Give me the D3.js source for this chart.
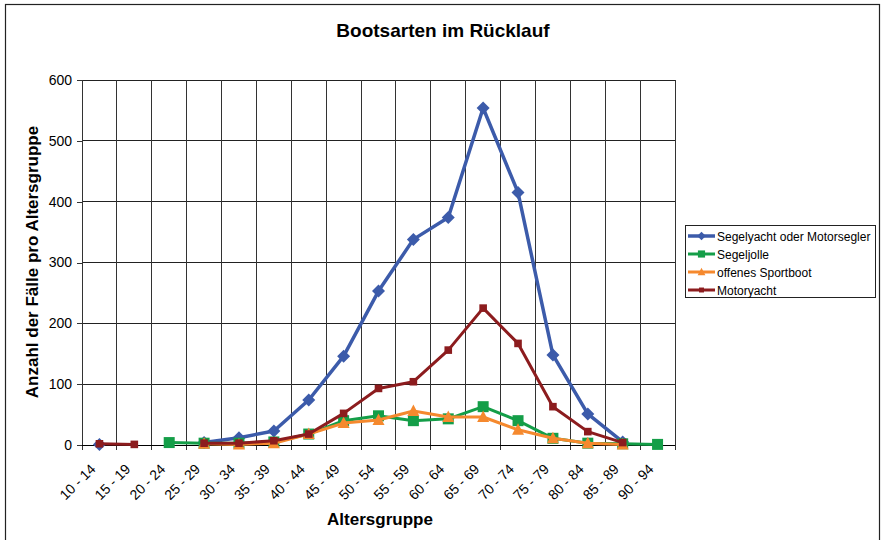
<!DOCTYPE html>
<html>
<head>
<meta charset="utf-8">
<script src="https://cdn.jsdelivr.net/npm/d3@7"></script>
<style>
  html, body { margin: 0; padding: 0; background: #fff; }
  svg { display: block; font-family: "Liberation Sans", Arial, sans-serif; }
</style>
</head>
<body>
<svg id="chart" width="883" height="540"></svg>
<script>
// ---- data ----
const categories = ["10 - 14","15 - 19","20 - 24","25 - 29","30 - 34","35 - 39","40 - 44","45 - 49","50 - 54","55 - 59","60 - 64","65 - 69","70 - 74","75 - 79","80 - 84","85 - 89","90 - 94"];
const segelyacht = [1, null, null, 4, 12, 23, 74, 146, 253, 338, 374, 554, 415, 148, 51, 5, null];
const segeljolle = [null, null, 4, 3, 3, 5, 18, 40, 48, 40, 43, 63, 40, 11, 3, 2, 1];
const sportboot  = [null, null, null, 2, 1, 3, 18, 36, 41, 56, 46, 46, 25, 11, 3, 1, null];
const motoryacht = [2, 1, null, 3, 3, 7, 18, 52, 93, 104, 156, 225, 167, 63, 22, 4, null];
const seriesNames = ["Segelyacht oder Motorsegler", "Segeljolle", "offenes Sportboot", "Motoryacht"];
const yTicks = [0, 100, 200, 300, 400, 500, 600];
const titleText = "Bootsarten im Rücklauf";
const xTitle = "Altersgruppe";
const yTitle = "Anzahl der Fälle pro Altersgruppe";

// ---- styles ----
const seriesData = [segelyacht, segeljolle, sportboot, motoryacht];
const colors = ["#3C5BAA", "#149E48", "#F5892E", "#8C1C1E"];
const widths = [3.5, 3, 3, 3];
const markers = ["diamond", "bigsquare", "triangle", "smallsquare"];

const svg = d3.select("#chart");
const L = 82, R = 675, T = 80, B = 445;

const x = d3.scaleBand().domain(categories).range([L, R]).padding(0);
const y = d3.scaleLinear().domain([0, 600]).range([B, T]);

// outer frame
svg.append("rect").attr("x", 5.5).attr("y", 4.5).attr("width", 874).attr("height", 545)
  .attr("fill", "none").attr("stroke", "#222").attr("stroke-width", 1.2);

// gridlines
const grid = svg.append("g").attr("shape-rendering", "crispEdges");
yTicks.forEach(t => {
  grid.append("line").attr("x1", L).attr("x2", R).attr("y1", y(t)).attr("y2", y(t))
    .attr("stroke", "#222").attr("stroke-width", 1);
});
const bounds = categories.map(c => x(c)).concat([R]);
bounds.forEach(bx => {
  grid.append("line").attr("x1", bx).attr("x2", bx).attr("y1", T).attr("y2", B + 5)
    .attr("stroke", "#333").attr("stroke-width", 1);
});

// y axis
const yAxis = svg.append("g").attr("transform", `translate(${L},0)`)
  .call(d3.axisLeft(y).tickValues(yTicks).tickSize(5).tickPadding(5).tickFormat(d3.format("d")));
yAxis.selectAll("path, line").attr("stroke", "#333").attr("shape-rendering", "crispEdges");
yAxis.selectAll("text").attr("font-size", 14).attr("fill", "#000")
  .attr("font-family", "Liberation Sans, Arial, sans-serif");

// x axis baseline
svg.append("line").attr("x1", L).attr("x2", R).attr("y1", B).attr("y2", B)
  .attr("stroke", "#000").attr("shape-rendering", "crispEdges");

// x labels rotated
svg.append("g").selectAll("text").data(categories).join("text")
  .attr("transform", d => `translate(${x(d) + x.bandwidth() / 2 - 3},${B + 25}) rotate(-45)`)
  .attr("text-anchor", "end")
  .attr("font-size", 14)
  .attr("fill", "#000")
  .text(d => d);

// lines
const lineGen = d3.line()
  .defined(d => d.v !== null)
  .x(d => x(d.c) + x.bandwidth() / 2)
  .y(d => y(d.v));

function markerPath(type) {
  if (type === "diamond") return "M0,-6.5L6.5,0L0,6.5L-6.5,0Z";
  if (type === "bigsquare") return "M-5.5,-5.5H5.5V5.5H-5.5Z";
  if (type === "triangle") return "M0,-6.5L6,5L-6,5Z";
  return "M-3.8,-3.8H3.8V3.8H-3.8Z";
}

seriesData.forEach((arr, i) => {
  const pts = categories.map((c, j) => ({ c, v: arr[j] }));
  const g = svg.append("g");
  g.append("path").datum(pts).attr("d", lineGen)
    .attr("fill", "none").attr("stroke", colors[i]).attr("stroke-width", widths[i])
    .attr("stroke-linejoin", "round");
  g.selectAll("path.m").data(pts.filter(p => p.v !== null)).join("path")
    .attr("class", "m")
    .attr("transform", p => `translate(${x(p.c) + x.bandwidth() / 2},${y(p.v)})`)
    .attr("d", markerPath(markers[i]))
    .attr("fill", colors[i]);
});

// legend
const lg = svg.append("g");
lg.append("rect").attr("x", 685.5).attr("y", 225.5).attr("width", 190).attr("height", 72)
  .attr("fill", "#fff").attr("stroke", "#222").attr("stroke-width", 1);
seriesNames.forEach((name, i) => {
  const cy = 236 + i * 18;
  lg.append("line").attr("x1", 688).attr("x2", 715).attr("y1", cy).attr("y2", cy)
    .attr("stroke", colors[i]).attr("stroke-width", widths[i]);
  lg.append("path").attr("transform", `translate(701.5,${cy}) scale(0.65)`)
    .attr("d", markerPath(markers[i])).attr("fill", colors[i]);
  lg.append("text").attr("x", 717).attr("y", cy + 4.5).attr("font-size", 12)
    .attr("fill", "#000").text(name);
});

// titles
svg.append("text").attr("x", 443).attr("y", 37).attr("text-anchor", "middle")
  .attr("font-size", 19).attr("font-weight", "bold").text(titleText);
svg.append("text").attr("x", 380).attr("y", 525).attr("text-anchor", "middle")
  .attr("font-size", 17).attr("font-weight", "bold").text(xTitle);
svg.append("text").attr("transform", `translate(38,262) rotate(-90)`).attr("text-anchor", "middle")
  .attr("font-size", 17).attr("font-weight", "bold").text(yTitle);
</script>
</body>
</html>
